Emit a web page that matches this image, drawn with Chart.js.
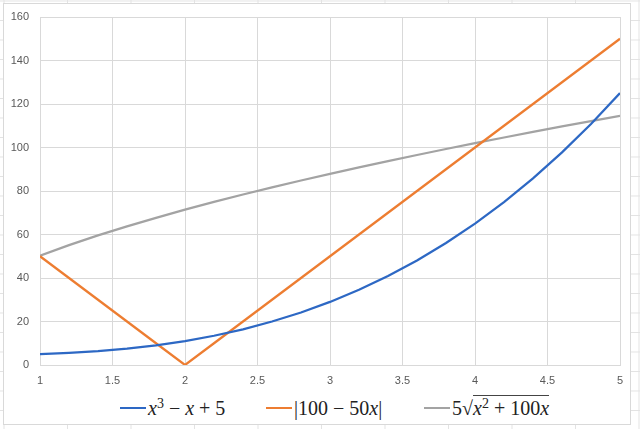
<!DOCTYPE html>
<html>
<head>
    <title>Three functions</title>
    <script src="https://cdn.jsdelivr.net/npm/chart.js@4.4.0/dist/chart.umd.min.js"></script>
    <style>
        html, body {
            margin: 0;
            width: 640px;
            height: 429px;
            overflow: hidden;
        }
        body {
            background-color: #fff;
            background-image:
                linear-gradient(to right, #e3e3e3 1px, transparent 1px),
                linear-gradient(to bottom, #e3e3e3 1px, transparent 1px);
            background-size: 63.5px 100%, 100% 19.5px;
            background-position: 3.5px 0, 0 0.5px;
        }
        #box {
            position: absolute;
            left: 3px;
            top: 3px;
            width: 626px;
            height: 420px;
            border: 1px solid #d9d9d9;
            background: #fff;
        }
        #canvas-wrap {
            position: absolute;
            left: 0;
            top: 0;
            width: 626px;
            height: 386px;
        }
        .item {
            position: absolute;
            top: 391px;
            height: 26px;
            display: flex;
            align-items: center;
            font-family: "Liberation Serif", "DejaVu Serif", serif;
            font-size: 20px;
            color: #222;
            white-space: nowrap;
        }
        .item .swatch {
            display: inline-block;
            width: 26px;
            height: 2px;
            margin-right: 2px;
        }
        .item i { font-style: italic; }
        .item sup { font-size: 14px; vertical-align: 7px; line-height: 0; }
        .root { border-top: 1px solid #444; padding-top: 1px; }
    </style>
</head>
<body>
<div id="box">
    <div id="canvas-wrap"><canvas id="canvas"></canvas></div>
    <div class="item" style="left:116px"><span class="swatch" style="background:#2d68c4"></span><span><i>x</i><sup>3</sup> &minus; <i>x</i> + 5</span></div>
    <div class="item" style="left:262px"><span class="swatch" style="background:#ed7d31"></span><span>|100 &minus; 50<i>x</i>|</span></div>
    <div class="item" style="left:420px"><span class="swatch" style="background:#a3a3a3"></span><span>5&radic;<span class="root"><i>x</i><sup>2</sup> + 100<i>x</i></span></span></div>
</div>
<script>
    // sampled every 0.2 from 1 to 5
    var xValues = [1, 1.2, 1.4, 1.6, 1.8, 2, 2.2, 2.4, 2.6, 2.8, 3, 3.2, 3.4, 3.6, 3.8, 4, 4.2, 4.4, 4.6, 4.8, 5];
    var cubicValues = [5, 5.53, 6.34, 7.5, 9.03, 11, 13.45, 16.42, 19.98, 24.15, 29, 34.57, 40.9, 48.06, 56.07, 65, 74.89, 85.78, 97.74, 110.79, 125];
    var absValues = [50, 40, 30, 20, 10, 0, 10, 20, 30, 40, 50, 60, 70, 80, 90, 100, 110, 120, 130, 140, 150];
    var sqrtValues = [50.25, 55.1, 59.57, 63.75, 67.68, 71.41, 74.97, 78.38, 81.66, 84.83, 87.89, 90.86, 93.75, 96.56, 99.3, 101.98, 104.6, 107.16, 109.68, 112.14, 114.56];
    var seriesNames = ['x³ − x + 5', '|100 − 50x|', '5√(x² + 100x)'];

    function toPoints(ys) {
        var pts = [];
        for (var i = 0; i < xValues.length; i++) {
            pts.push({ x: xValues[i], y: ys[i] });
        }
        return pts;
    }

    function line(label, ys, color) {
        return {
            label: label,
            data: toPoints(ys),
            borderColor: color,
            backgroundColor: color,
            borderWidth: 2.25,
            pointRadius: 0,
            tension: 0,
            fill: false
        };
    }

    var tickFont = { family: "'Liberation Sans', 'Noto Sans', sans-serif", size: 11 };

    let context = document.getElementById("canvas").getContext("2d");
    var myChart = new Chart(context, {
        type: 'line',
        data: {
            datasets: [
                line(seriesNames[0], cubicValues, '#2d68c4'),
                line(seriesNames[1], absValues, '#ed7d31'),
                line(seriesNames[2], sqrtValues, '#a3a3a3')
            ]
        },
        options: {
            responsive: true,
            maintainAspectRatio: false,
            animation: false,
            layout: { padding: { left: 0, right: 10, top: 13, bottom: 0 } },
            plugins: {
                legend: { display: false },
                tooltip: { enabled: false }
            },
            scales: {
                x: {
                    type: 'linear',
                    min: 1,
                    max: 5,
                    ticks: {
                        stepSize: 0.5, color: '#595959', font: tickFont, padding: 9, maxRotation: 0,
                        callback: function(v) { return String(v); }
                    },
                    grid: { color: '#d9d9d9', lineWidth: 1, drawTicks: false },
                    border: { color: '#d9d9d9' },
                    afterFit: function(scale) {
                        scale.height = 25;
                        scale.paddingLeft = 0;
                        scale.paddingRight = 0;
                    }
                },
                y: {
                    min: 0,
                    max: 160,
                    ticks: { stepSize: 20, color: '#595959', font: tickFont, padding: 11 },
                    grid: { color: '#d9d9d9', lineWidth: 1, drawTicks: false },
                    border: { color: '#d9d9d9' },
                    afterFit: function(scale) {
                        scale.width = 36;
                        scale.paddingTop = 0;
                        scale.paddingBottom = 0;
                    }
                }
            }
        }
    });
</script>
</body>
</html>
